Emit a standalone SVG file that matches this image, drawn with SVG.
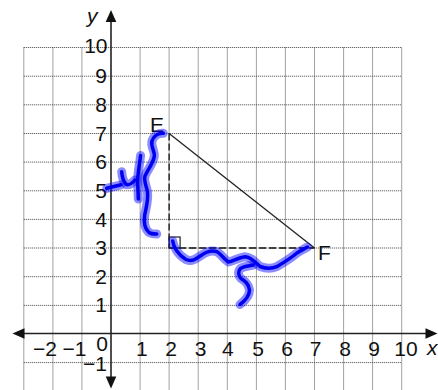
<svg xmlns="http://www.w3.org/2000/svg" width="438" height="390" viewBox="0 0 438 390">
<style>
.grid line{stroke:#444;stroke-width:1;stroke-dasharray:1 1}
.axis{stroke:#222;stroke-width:1.6}
.lbl{font-family:"Liberation Sans",Arial,sans-serif;font-size:21px;fill:#111}
.it{font-style:italic}
.halo{fill:none;stroke:#0000ff;stroke-opacity:0.45;stroke-width:9;stroke-linecap:round;stroke-linejoin:round}
.ink{fill:none;stroke:#0000f0;stroke-width:3.5;stroke-linecap:round;stroke-linejoin:round}
.dash{stroke:#111;stroke-width:1.3;stroke-dasharray:7 3;fill:none}
</style>
<rect width="438" height="390" fill="#fff"/>
<g class="grid">
<line x1="23.8" y1="47.5" x2="23.8" y2="390"/>
<line x1="52.9" y1="47.5" x2="52.9" y2="390"/>
<line x1="81.9" y1="47.5" x2="81.9" y2="390"/>
<line x1="140.1" y1="47.5" x2="140.1" y2="390"/>
<line x1="169.1" y1="47.5" x2="169.1" y2="390"/>
<line x1="198.2" y1="47.5" x2="198.2" y2="390"/>
<line x1="227.3" y1="47.5" x2="227.3" y2="390"/>
<line x1="256.4" y1="47.5" x2="256.4" y2="390"/>
<line x1="285.4" y1="47.5" x2="285.4" y2="390"/>
<line x1="314.5" y1="47.5" x2="314.5" y2="390"/>
<line x1="343.6" y1="47.5" x2="343.6" y2="390"/>
<line x1="372.6" y1="47.5" x2="372.6" y2="390"/>
<line x1="401.7" y1="47.5" x2="401.7" y2="390"/>
<line x1="23.8" y1="47.5" x2="401.7" y2="47.5"/>
<line x1="23.8" y1="76.2" x2="401.7" y2="76.2"/>
<line x1="23.8" y1="104.8" x2="401.7" y2="104.8"/>
<line x1="23.8" y1="133.5" x2="401.7" y2="133.5"/>
<line x1="23.8" y1="162.1" x2="401.7" y2="162.1"/>
<line x1="23.8" y1="190.8" x2="401.7" y2="190.8"/>
<line x1="23.8" y1="219.4" x2="401.7" y2="219.4"/>
<line x1="23.8" y1="248" x2="401.7" y2="248"/>
<line x1="23.8" y1="276.7" x2="401.7" y2="276.7"/>
<line x1="23.8" y1="305.4" x2="401.7" y2="305.4"/>
<line x1="23.8" y1="362.6" x2="401.7" y2="362.6"/>
</g>
<g id="axes">
<line class="axis" x1="24" y1="333.5" x2="426" y2="333.5"/>
<line class="axis" x1="111" y1="21" x2="111" y2="378"/>
<polygon points="12.5,333.5 24.5,328.2 24.5,338.8" fill="#111"/>
<polygon points="437.5,333.5 425.5,328.2 425.5,338.8" fill="#111"/>
<polygon points="111,10 105.7,22 116.3,22" fill="#111"/>
<polygon points="111,388.5 105.7,376.5 116.3,376.5" fill="#111"/>
<text class="lbl it" x="87" y="23">y</text>
<text class="lbl it" x="427" y="355">x</text>
</g>
<g id="ticklabels" class="lbl">
<g text-anchor="end">
<text x="107.5" y="52.5">10</text>
<text x="107" y="83">9</text>
<text x="107" y="111.8">8</text>
<text x="107" y="140.5">7</text>
<text x="107" y="169">6</text>
<text x="107" y="197.8">5</text>
<text x="107" y="226.5">4</text>
<text x="107" y="255">3</text>
<text x="107" y="283.7">2</text>
<text x="107" y="312.3">1</text>
<text x="107" y="370.5">−1</text>
<text x="108" y="351">0</text>
<text x="57" y="355.5">−2</text>
<text x="86.5" y="355.5">−1</text>
</g>
<g text-anchor="middle">
<text x="141.8" y="355.5">1</text>
<text x="171" y="355.5">2</text>
<text x="200.5" y="355.5">3</text>
<text x="227.8" y="355.5">4</text>
<text x="258" y="355.5">5</text>
<text x="287.2" y="355.5">6</text>
<text x="315.5" y="355.5">7</text>
<text x="345" y="355.5">8</text>
<text x="374" y="355.5">9</text>
<text x="406" y="355.5">10</text>
</g>
</g>
<g id="connectors">
<line x1="169.1" y1="133.5" x2="314.5" y2="248" stroke="#222" stroke-width="1.3"/>
<line class="dash" x1="169.1" y1="133.5" x2="169.1" y2="248"/>
<line class="dash" x1="169.1" y1="248" x2="314.5" y2="248"/>
<rect x="169.1" y="237" width="11" height="11" fill="none" stroke="#222" stroke-width="1.2"/>
</g>
<g id="node-E">
<text class="lbl" x="150" y="131.7">E</text>
</g>
<g id="node-F">
<text class="lbl" x="318" y="259.5">F</text>
</g>
<g id="scribbles">
<g class="halo">
<path d="M106.7,188.3 L121,184.8"/>
<path d="M121.7,171.7 C122,177 123.5,182 126.7,184.8 C129.5,185 132.5,183 135,180"/>
<path d="M140.6,155.5 C139.5,165 137.5,174 137.7,182 C137.8,188 138.2,193 138.3,199"/>
<path d="M163.3,133.3 C159,133 154,135 152,141 C150.5,147 155,151 154.3,156 C153.5,163 148,169 145,176 C143.5,181 146.5,186 147.5,192 C148.5,200 146,208 144.7,215 C143.5,223 145,229 149,232.5 C151,234 154,234 156.7,234"/>
<path d="M172.7,241 C173.5,247 178,255 186,259.5 C192,262 196,259 201,255.5 C206,252 212,250 216.7,251.7 C220,253 223,258 228.3,262 C232,262 238,257.5 245,256.7 C251,257 255,262 260,266.5 C264,268 270,269.5 276.7,266.7 C283,263 291,258 297,253 C301,250.5 304,249 307.5,247"/>
<path d="M253.3,265 C249,266 244,266 240.5,268.5 C237.5,271.5 238.5,276 241,278.5 C245,281 248.5,283.5 249.5,290 C249.5,296 246,300 240,304.5"/>
</g>
<g class="ink">
<path d="M106.7,188.3 L121,184.8"/>
<path d="M121.7,171.7 C122,177 123.5,182 126.7,184.8 C129.5,185 132.5,183 135,180"/>
<path d="M140.6,155.5 C139.5,165 137.5,174 137.7,182 C137.8,188 138.2,193 138.3,199"/>
<path d="M163.3,133.3 C159,133 154,135 152,141 C150.5,147 155,151 154.3,156 C153.5,163 148,169 145,176 C143.5,181 146.5,186 147.5,192 C148.5,200 146,208 144.7,215 C143.5,223 145,229 149,232.5 C151,234 154,234 156.7,234"/>
<path d="M172.7,241 C173.5,247 178,255 186,259.5 C192,262 196,259 201,255.5 C206,252 212,250 216.7,251.7 C220,253 223,258 228.3,262 C232,262 238,257.5 245,256.7 C251,257 255,262 260,266.5 C264,268 270,269.5 276.7,266.7 C283,263 291,258 297,253 C301,250.5 304,249 307.5,247"/>
<path d="M253.3,265 C249,266 244,266 240.5,268.5 C237.5,271.5 238.5,276 241,278.5 C245,281 248.5,283.5 249.5,290 C249.5,296 246,300 240,304.5"/>
</g>
</g>
</svg>
